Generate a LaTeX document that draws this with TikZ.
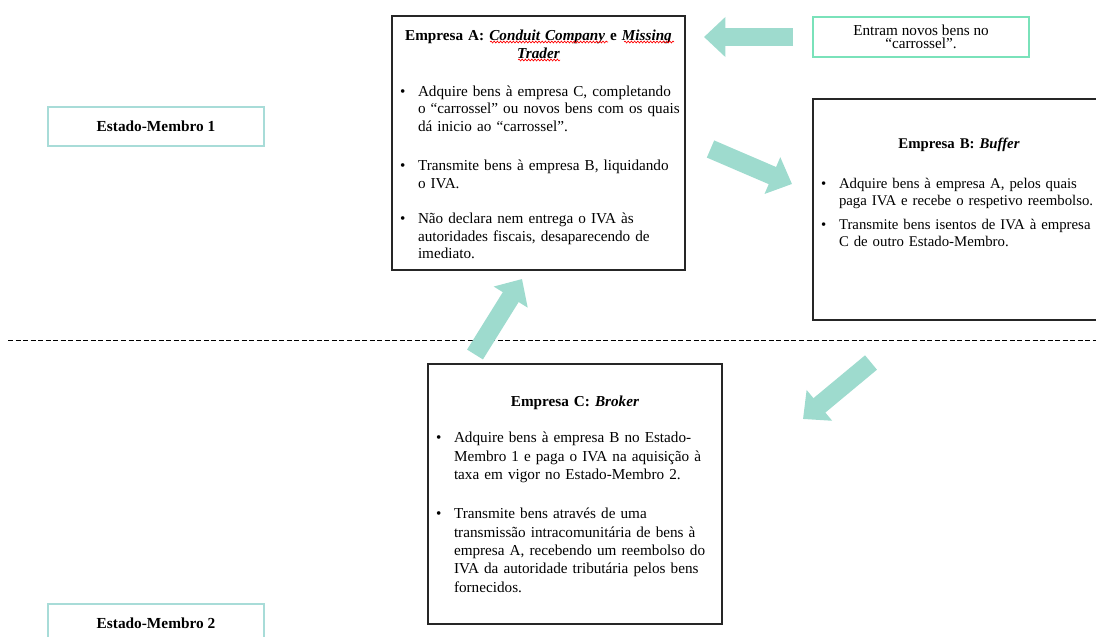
\documentclass[tikz,border=0pt]{standalone}
\usepackage{fontspec}
\setmainfont{Liberation Serif}
\usetikzlibrary{arrows.meta, decorations.pathmorphing}

\definecolor{estadoline}{RGB}{168,220,216}
\definecolor{entramline}{RGB}{122,226,186}
\definecolor{setafill}{RGB}{158,219,206}

\newcommand\bul[1]{\par\noindent\makebox[13.5pt][l]{\textbullet}\begin{tabular}[t]{@{}l@{}}#1\end{tabular}\par}

\begin{document}
\begin{tikzpicture}[x = 0.75pt, y = -0.75pt,
empresa/.style = {draw = black!85, line width = 1pt, inner xsep = 6pt, align = left, font = \fontsize{11.4}{13.3}\selectfont},
estado/.style = {draw = estadoline, line width = 1pt, minimum width = 162pt, minimum height = 29.25pt, font = \bfseries\fontsize{11.5}{13.5}\selectfont},
novos/.style = {draw = entramline, line width = 1pt, minimum width = 162pt, minimum height = 30pt, align = center, font = \fontsize{11.4}{10}\selectfont},
seta/.style = {draw = setafill, line width = 14pt, -{Triangle[width = 29pt, length = 16pt]}},
onda/.style = {draw = red, line width = 0.5pt, decorate, decoration = {snake, segment length = 2.4pt, amplitude = 0.7pt}}]
\useasboundingbox (0,0) rectangle (1096,636);

\node[estado] (estado1) at (156,126.5) {Estado-Membro 1};
\node[estado] (estado2) at (156,623.5) {Estado-Membro 2};
\node[novos] (novosBens) at (921,37) {Entram novos bens no\\ “carrossel”.};

\node[empresa, minimum width = 219.75pt, text width = 207.75pt, minimum height = 190.5pt] (empresaA) at (538.5,143) {
{\centering\bfseries\rule{0pt}{14pt}Empresa A: \textit{Conduit Company} e \textit{Missing}\\ \textit{Trader}\par}
\vspace{15pt}
\bul{Adquire bens à empresa C, completando\\ o “carrossel” ou novos bens com os quais\\ dá inicio ao “carrossel”.}
\vspace{15pt}
\bul{Transmite bens à empresa B, liquidando\\ o IVA.}
\vspace{12pt}
\bul{Não declara nem entrega o IVA às\\ autoridades fiscais, desaparecendo de\\ imediato.}
};

\node[empresa, minimum width = 219pt, text width = 207pt, minimum height = 165.75pt, font = \fontsize{11.1}{12.75}\selectfont] (empresaB) at (959,209.5) {
{\centering\bfseries Empresa B: \textit{Buffer}\par}
\vspace{17pt}
\bul{Adquire bens à empresa A, pelos quais\\ paga IVA e recebe o respetivo reembolso.}
\vspace{4.5pt}
\bul{Transmite bens isentos de IVA à empresa\\ C de outro Estado-Membro.}
\vspace{20.5pt}\null
};

\node[empresa, minimum width = 220.5pt, text width = 208.5pt, minimum height = 195pt, font = \fontsize{11.4}{13.7}\selectfont] (empresaC) at (575,494) {
{\centering\bfseries\rule{0pt}{12pt}Empresa C: \textit{Broker}\par}
\vspace{13.5pt}
\bul{Adquire bens à empresa B no Estado-\\ Membro 1 e paga o IVA na aquisição à\\ taxa em vigor no Estado-Membro 2.}
\vspace{15pt}
\bul{Transmite bens através de uma\\ transmissão intracomunitária de bens à\\ empresa A, recebendo um reembolso do\\ IVA da autoridade tributária pelos bens\\ fornecidos.}
};

\draw[onda] (490,42) -- (608,42);
\draw[onda] (624,42) -- (674,42);
\draw[onda] (518,60) -- (560,60);

\draw[line width = 0.75pt, dash pattern = on 3.75pt off 1.9pt] (8,340) -- (1096,340);

\coordinate (novoIni) at (793,37);
\coordinate (novoFim) at (704,37);
\coordinate (abIni) at (710.5,149);
\coordinate (abFim) at (792,184);
\coordinate (bcIni) at (871,362.5);
\coordinate (bcFim) at (803,419);
\coordinate (caIni) at (475,354.5);
\coordinate (caFim) at (522,279);
\foreach \ini/\fim in {novoIni/novoFim, abIni/abFim, bcIni/bcFim, caIni/caFim}{
\draw[seta] (\ini) -- (\fim);
}
\end{tikzpicture}
\end{document}
